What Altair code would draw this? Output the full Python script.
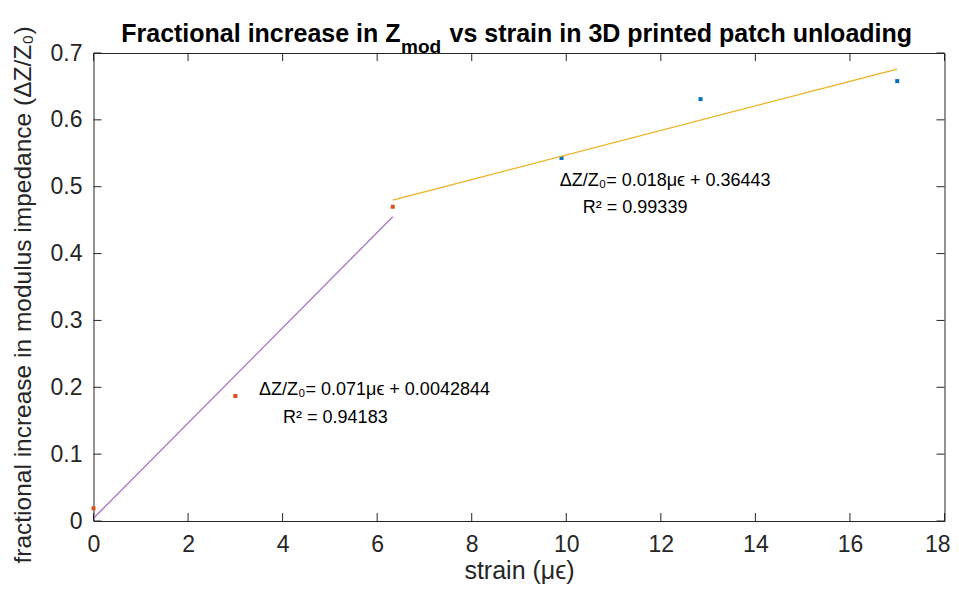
import altair as alt
import pandas as pd

# ---- data ----
seg1_strain = [0.0, 3.0, 6.33]
seg1_frac = [0.019, 0.187, 0.470]
seg2_strain = [9.90, 12.84, 17.0]
seg2_frac = [0.543, 0.631, 0.658]
fit1_strain = [0.0, 6.33]
fit1_frac = [0.004, 0.455]
fit2_strain = [6.33, 17.0]
fit2_frac = [0.480, 0.676]
x_ticks = [0, 2, 4, 6, 8, 10, 12, 14, 16, 18]
y_ticks = [0, 0.1, 0.2, 0.3, 0.4, 0.5, 0.6, 0.7]

title_main = "Fractional increase in Z"
title_sub = "mod"
title_rest = "vs strain in 3D printed patch unloading"
x_title = "strain (μϵ)"
y_title = "fractional increase in modulus impedance (ΔZ/Z₀)"
ann1_eq = "ΔZ/Z₀= 0.018μϵ + 0.36443"
ann1_r2 = "R² = 0.99339"
ann2_eq = "ΔZ/Z₀= 0.071μϵ + 0.0042844"
ann2_r2 = "R² = 0.94183"

W, H = 851, 468
FONT = "Liberation Sans"
AX = "#262626"
TL = 8

pts1 = pd.DataFrame({"strain": seg1_strain, "frac": seg1_frac})
pts2 = pd.DataFrame({"strain": seg2_strain, "frac": seg2_frac})
fit1 = pd.DataFrame({"strain": fit1_strain, "frac": fit1_frac})
fit2 = pd.DataFrame({"strain": fit2_strain, "frac": fit2_frac})
xt = pd.DataFrame({"strain": x_ticks})
yt = pd.DataFrame({"frac": y_ticks})
one = pd.DataFrame({"k": [0]})

xscale = alt.Scale(domain=[0, 18], nice=False, zero=False)
yscale = alt.Scale(domain=[0, 0.7], nice=False, zero=False)

x_axis = alt.Axis(values=x_ticks, ticks=False, tickSize=0, domain=False, grid=False,
                  labelFontSize=23, labelColor=AX, labelFont=FONT, labelPadding=12,
                  labelFlush=False, labelOverlap=False,
                  labelAlign={"expr": "datum.value == 18 ? 'right' : 'center'"},
                  labelOffset={"expr": "datum.value == 18 ? 5.5 : 0"},
                  title=x_title, titleFontSize=25, titleFont=FONT, titleColor=AX,
                  titleFontWeight="normal", titleBaseline="alphabetic", titleY=57.5)
y_axis = alt.Axis(values=y_ticks, format="~g", ticks=False, tickSize=0, domain=False, grid=False,
                  labelFontSize=23, labelColor=AX, labelFont=FONT, labelPadding=11.5,
                  labelOverlap=False,
                  title=y_title, titleFontSize=24.5, titleFont=FONT, titleColor=AX,
                  titleFontWeight="normal", titleBaseline="alphabetic", titleX=-63.5,
                  titleY=241.5)

X = lambda: alt.X("strain:Q", scale=xscale)
Y = lambda: alt.Y("frac:Q", scale=yscale)

p1 = alt.Chart(pts1).mark_square(size=16, color="#D95319", opacity=1).encode(
    x=alt.X("strain:Q", scale=xscale, axis=x_axis),
    y=alt.Y("frac:Q", scale=yscale, axis=y_axis),
)
p2 = alt.Chart(pts2).mark_square(size=16, color="#0072BD", opacity=1).encode(x=X(), y=Y())
l1 = alt.Chart(fit1).mark_line(color="#9B59B6", strokeWidth=1.3, opacity=0.85).encode(x=X(), y=Y())
l2 = alt.Chart(fit2).mark_line(color="#EDB120", strokeWidth=1.2).encode(x=X(), y=Y())

tb = alt.Chart(xt).mark_rule(color=AX, strokeWidth=1).encode(x=X(), y=alt.value(H), y2=alt.value(H - TL))
tt = alt.Chart(xt).mark_rule(color=AX, strokeWidth=1).encode(x=X(), y=alt.value(0), y2=alt.value(TL))
tl = alt.Chart(yt).mark_rule(color=AX, strokeWidth=1).encode(y=Y(), x=alt.value(0), x2=alt.value(TL))
tr = alt.Chart(yt).mark_rule(color=AX, strokeWidth=1).encode(y=Y(), x=alt.value(W), x2=alt.value(W - TL))


def ann(text, xv, yv):
    return alt.Chart(one).mark_text(font=FONT, fontSize=18, color="black", align="left",
                                    baseline="alphabetic").encode(
        x=alt.datum(xv), y=alt.datum(yv), text=alt.value(text))


a1 = ann(ann1_eq, 9.86, 0.501)
a2 = ann(ann1_r2, 10.35, 0.461)
a3 = ann(ann2_eq, 3.50, 0.188)
a4 = ann(ann2_r2, 4.01, 0.147)


def ttext(text, xp, yp, size, align):
    return alt.Chart(one).mark_text(font=FONT, fontSize=size, fontWeight="bold", color="black",
                                    align=align, baseline="alphabetic").encode(
        x=alt.value(xp), y=alt.value(yp), text=alt.value(text))


t1 = ttext(title_main, 307, -11.3, 25, "right")
t2 = ttext(title_sub, 307.5, -0.5, 19, "left")
t3 = ttext(title_rest, 356, -11.3, 25, "left")

chart = alt.layer(p1, p2, l1, l2, tb, tt, tl, tr, a1, a2, a3, a4, t1, t2, t3).properties(
    width=W, height=H,
    autosize=alt.AutoSizeParams(type="none"),
    padding={"left": 85.5, "top": 45, "right": 6.5, "bottom": 63},
    background="white",
).configure_view(stroke=AX, strokeWidth=1)

chart.save("out.html", embed_options={"renderer": "svg", "actions": False})
